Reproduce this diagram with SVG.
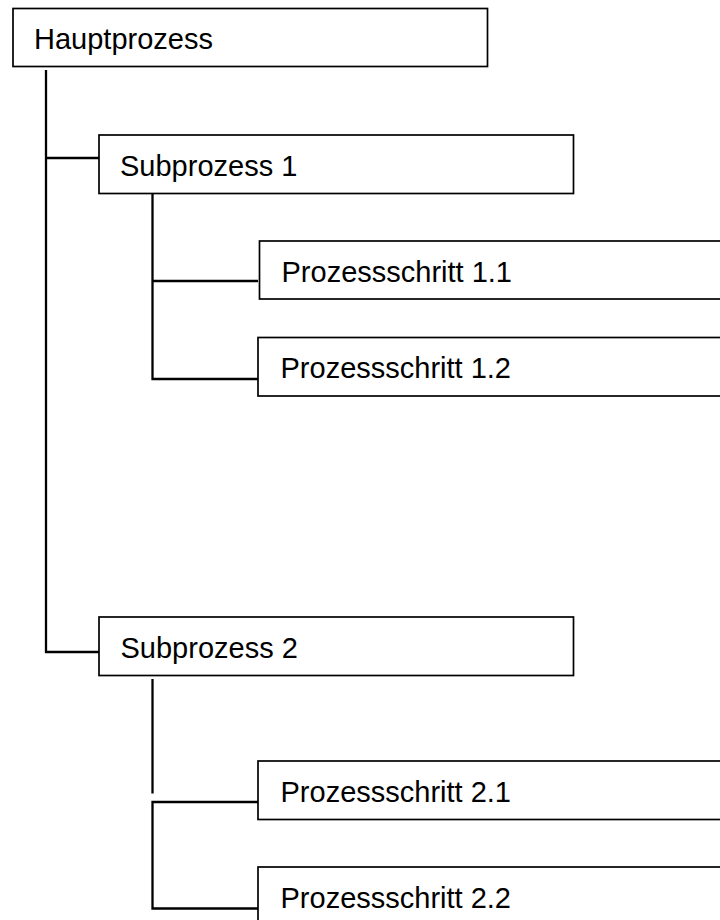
<svg xmlns="http://www.w3.org/2000/svg" width="720" height="920" viewBox="0 0 720 920">
<style>
.box{fill:#fff;stroke:#000;stroke-width:1.7}
.lbl{font-family:"Liberation Sans",Arial,sans-serif;font-size:29px;fill:#000}
.con{fill:none;stroke:#000;stroke-width:2.3;stroke-linecap:butt;stroke-linejoin:miter}
</style>
<rect width="720" height="920" fill="#fff"/>
<g id="connectors">
<path class="con" d="M46 70 V652 H99"/>
<path class="con" d="M46 158 H99"/>
<path class="con" d="M152.5 194 V379 H258"/>
<path class="con" d="M152.5 281 H258"/>
<path class="con" d="M152.5 679 V793.5"/>
<path class="con" d="M258 802 H152.5 V908.5 H258"/>
</g>
<g id="hauptprozess">
<rect class="box" x="13" y="8.5" width="474.5" height="58"/>
<text class="lbl" x="34" y="49">Hauptprozess</text>
</g>
<g id="subprozess1">
<rect class="box" x="99" y="135" width="474.5" height="58.5"/>
<text class="lbl" x="120" y="175.5">Subprozess 1</text>
</g>
<g id="schritt11">
<rect class="box" x="259.5" y="241" width="480" height="58"/>
<text class="lbl" x="281.5" y="281.5">Prozessschritt 1.1</text>
</g>
<g id="schritt12">
<rect class="box" x="258" y="337.5" width="480" height="58.5"/>
<text class="lbl" x="280.5" y="378">Prozessschritt 1.2</text>
</g>
<g id="subprozess2">
<rect class="box" x="99" y="617" width="474.5" height="58.5"/>
<text class="lbl" x="120.5" y="657.5">Subprozess 2</text>
</g>
<g id="schritt21">
<rect class="box" x="258" y="761" width="480" height="58.5"/>
<text class="lbl" x="280.5" y="801.5">Prozessschritt 2.1</text>
</g>
<g id="schritt22">
<rect class="box" x="258" y="867" width="480" height="58.5"/>
<text class="lbl" x="280.5" y="907.5">Prozessschritt 2.2</text>
</g>
</svg>
